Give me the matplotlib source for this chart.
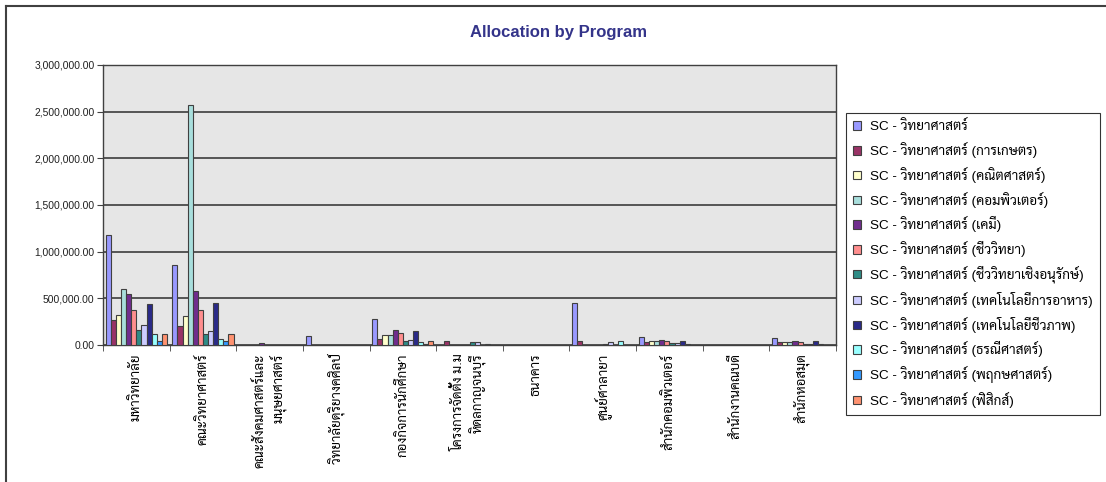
import numpy as np
import matplotlib
matplotlib.use("Agg")
import matplotlib.pyplot as plt
from matplotlib.lines import Line2D
from matplotlib.ticker import FuncFormatter, MultipleLocator

# Thai glyphs come from Sarabun, Latin text from Liberation Sans
plt.rcParams['font.family'] = ['Liberation Sans', 'Sarabun', 'DejaVu Sans']

# Budget units along the x axis
units = [
    "มหาวิทยาลัย",
    "คณะวิทยาศาสตร์",
    "คณะสังคมศาสตร์และ\nมนุษยศาสตร์",
    "วิทยาลัยดุริยางคศิลป์",
    "กองกิจการนักศึกษา",
    "โครงการจัดตั้ง ม.ม\nหิดลกาญจนบุรี",
    "ธนาคาร",
    "ศูนย์ศาลายา",
    "สำนักคอมพิวเตอร์",
    "สำนักงานคณบดี",
    "สำนักหอสมุด",
]

# Programs (one series each)
programs = [
    "SC - วิทยาศาสตร์",
    "SC - วิทยาศาสตร์ (การเกษตร)",
    "SC - วิทยาศาสตร์ (คณิตศาสตร์)",
    "SC - วิทยาศาสตร์ (คอมพิวเตอร์)",
    "SC - วิทยาศาสตร์ (เคมี)",
    "SC - วิทยาศาสตร์ (ชีววิทยา)",
    "SC - วิทยาศาสตร์ (ชีววิทยาเชิงอนุรักษ์)",
    "SC - วิทยาศาสตร์ (เทคโนโลยีการอาหาร)",
    "SC - วิทยาศาสตร์ (เทคโนโลยีชีวภาพ)",
    "SC - วิทยาศาสตร์ (ธรณีศาสตร์)",
    "SC - วิทยาศาสตร์ (พฤกษศาสตร์)",
    "SC - วิทยาศาสตร์ (ฟิสิกส์)",
]

# Allocation per unit for each program
sc_general = [1175000, 855000, 0, 95000, 282000, 0, 0, 447000, 82000, 0, 70000]
sc_agriculture = [268000, 204000, 5000, 0, 68000, 43000, 0, 43000, 32000, 5000, 29000]
sc_math = [321000, 307000, 5000, 0, 110000, 0, 0, 0, 39000, 5000, 29000]
sc_computer = [603000, 2575000, 4000, 0, 110000, 0, 0, 0, 39000, 5000, 29000]
sc_chemistry = [546000, 575000, 18000, 0, 161000, 0, 0, 0, 54000, 5000, 43000]
sc_biology = [375000, 375000, 5000, 0, 125000, 0, 0, 0, 39000, 5000, 32000]
sc_conservation = [161000, 121000, 4000, 0, 40000, 29000, 0, 10000, 18000, 0, 8000]
sc_food_tech = [218000, 150000, 4000, 0, 57000, 29000, 0, 29000, 18000, 0, 8000]
sc_biotech = [443000, 454000, 4000, 0, 150000, 0, 0, 0, 39000, 5000, 43000]
sc_geology = [121000, 68000, 0, 0, 29000, 8000, 0, 46000, 8000, 0, 6000]
sc_botany = [43000, 43000, 3000, 0, 10000, 0, 0, 0, 5000, 0, 5000]
sc_physics = [121000, 121000, 5000, 0, 43000, 0, 0, 0, 5000, 0, 5000]

series = [sc_general, sc_agriculture, sc_math, sc_computer, sc_chemistry,
          sc_biology, sc_conservation, sc_food_tech, sc_biotech, sc_geology,
          sc_botany, sc_physics]

colors = ['#9999FF', '#993366', '#FFFFCC', '#A8DEDC', '#702D8E', '#FF8E8E',
          '#2F8C86', '#CCCCFF', '#2A2A88', '#99FFFF', '#3399FF', '#FF9270']

fig = plt.figure(figsize=(11.06, 4.82), dpi=100)
ax = fig.add_axes([103 / 1106, 137 / 482, 733 / 1106, 280 / 482])
ax.set_facecolor('#E6E6E6')

x = np.arange(len(units))
bar_w = 0.0765
for j, (vals, label, color) in enumerate(zip(series, programs, colors)):
    ax.bar(x + (j - 5.5) * bar_w, vals, width=bar_w, color=color,
           edgecolor='#404040', linewidth=0.8, label=label, zorder=3)

ax.set_xlim(-0.5, len(units) - 0.5)
ax.set_ylim(0, 3000000)
ax.yaxis.set_major_locator(MultipleLocator(500000))
ax.yaxis.set_major_formatter(FuncFormatter(lambda v, p: f"{v:,.2f}"))
ax.grid(axis='y', color='#3C3C3C', linewidth=1.2, zorder=1)
ax.tick_params(axis='y', labelsize=7.4, length=4, color='#404040', pad=2,
               labelcolor='#202020')

ax.set_xticks(x)
ax.set_xticklabels(units, rotation=90, fontsize=9.5, va='top', ha='center',
                   multialignment='right')
ax.set_xticks(np.arange(len(units) + 1) - 0.5, minor=True)
ax.tick_params(axis='x', which='major', length=0, pad=6)
ax.tick_params(axis='x', which='minor', length=4, color='#404040')

for side in ['left', 'bottom', 'right', 'top']:
    ax.spines[side].set_color('#404040')
    ax.spines[side].set_linewidth(1.0)

fig.text(558 / 1106, 1 - 32 / 482, "Allocation by Program",
         ha='center', va='center', fontsize=12, fontweight='bold',
         color='#34348A', family=['Liberation Sans Narrow', 'Liberation Sans'])

leg = fig.legend(loc='upper left', bbox_to_anchor=(846 / 1106, 1 - 113 / 482),
                 fontsize=9.7, frameon=True, fancybox=False, borderaxespad=0,
                 handlelength=0.6, handleheight=0.6, handletextpad=0.6,
                 labelspacing=0.645, borderpad=0.55)
leg.get_frame().set_edgecolor('#000000')
leg.get_frame().set_linewidth(0.8)

# outer frame of the chart image
fig.add_artist(Line2D([6 / 1106, 1.0], [1 - 6 / 482] * 2, color='#404040', linewidth=1.5))
fig.add_artist(Line2D([6 / 1106] * 2, [0.0, 1 - 6 / 482], color='#404040', linewidth=1.5))

fig.savefig("out.png", dpi=100)
